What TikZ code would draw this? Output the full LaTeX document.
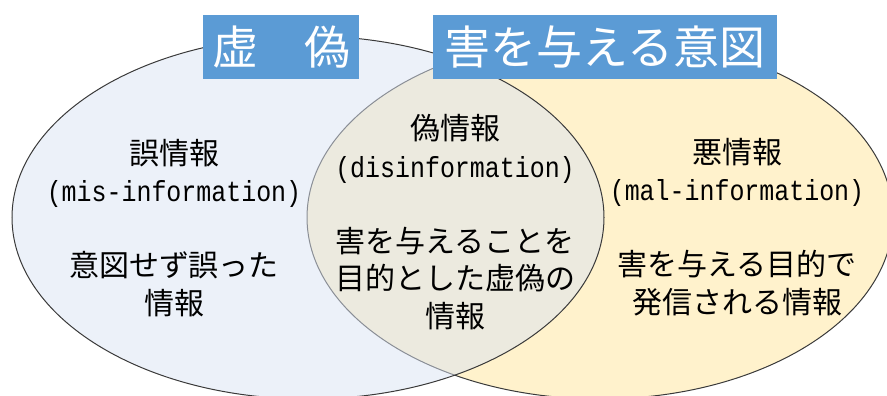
\documentclass[tikz,border=0pt]{standalone}
\usepackage{fontspec}
\newfontfamily\jpfont{Noto Sans CJK JP}
\newfontfamily\monofont[FakeStretch=0.86]{Liberation Mono}
\definecolor{leftfill}{HTML}{DAE3F3}
\definecolor{rightfill}{HTML}{FFF2CC}
\definecolor{edge}{HTML}{3A3A3A}
\definecolor{titlebg}{HTML}{5B9BD5}
\newcommand{\lat}[1]{{\monofont\fontsize{29}{37.5}\selectfont #1}}
\tikzset{
  setedge/.style={draw=edge, line width=1pt},
  body/.style={font=\jpfont\fontsize{30}{37.5}\selectfont, align=center, text=black, inner sep=0pt},
  titlebox/.style={fill=titlebg, text=white, font=\jpfont\fontsize{46}{50}\selectfont,
    minimum height=64pt, inner sep=0pt, anchor=center}
}
\begin{document}
\begin{tikzpicture}[x=1pt,y=-1pt]
\useasboundingbox (0,0) rectangle (887,396);
\clip (0,0) rectangle (887,396);
% sets
\draw[setedge, fill=rightfill] (600,217.5) ellipse [x radius=293, y radius=181.5];
\fill[leftfill, fill opacity=0.5] (308,217.5) ellipse [x radius=296, y radius=181.5];
\draw[setedge] (308,217.5) ellipse [x radius=296, y radius=181.5];
% titles
\node[titlebox, minimum width=156pt] (t1) at (281,47) {虚　偽};
\node[titlebox, minimum width=344pt] (t2) at (605,47) {害を与える意図};
% texts
\node[body] (mis) at (174,228) {誤情報\\\lat{(mis-information)}\\[37.5pt]意図せず誤った\\情報};
\node[body] (dis) at (455,222) {偽情報\\\lat{(disinformation)}\\[37.5pt]害を与えることを\\目的とした虚偽の\\情報};
\node[body] (mal) at (737,227) {悪情報\\\lat{(mal-information)}\\[37.5pt]害を与える目的で\\発信される情報};
\end{tikzpicture}
\end{document}
